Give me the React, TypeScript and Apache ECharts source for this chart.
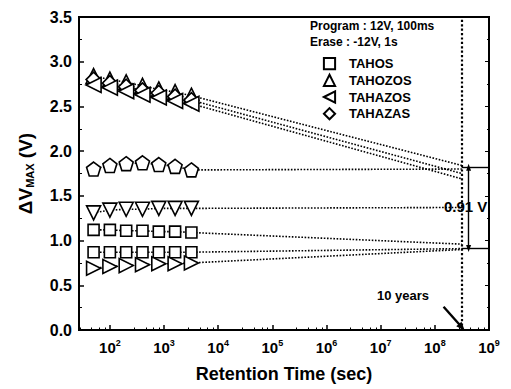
import React, { useEffect, useRef } from "react";
import * as echarts from "echarts";

// Retention times (s)
const times = [50, 100, 200, 400, 800, 1600, 3200];
const tenYears = 3.15e8;

// Series values (V)
const tahozosTop = [2.84, 2.8, 2.77, 2.73, 2.69, 2.66, 2.62];
const tahazasTop = [2.8, 2.76, 2.72, 2.68, 2.65, 2.61, 2.57];
const tahazosTop = [2.74, 2.71, 2.67, 2.63, 2.6, 2.56, 2.53];
const pentagonSet = [1.8, 1.84, 1.86, 1.87, 1.85, 1.83, 1.79];
const downTriSet = [1.31, 1.34, 1.35, 1.35, 1.36, 1.36, 1.36];
const tahosUpper = [1.12, 1.12, 1.11, 1.11, 1.1, 1.1, 1.09];
const tahosLower = [0.87, 0.87, 0.87, 0.87, 0.87, 0.87, 0.87];
const rightTriSet = [0.69, 0.71, 0.72, 0.73, 0.74, 0.74, 0.75];

// Extrapolated values at 10 years (V)
const tenYearValues = [1.84, 1.75, 1.69, 1.8, 1.37, 0.96, 0.91, 0.9];

// Memory window levels
const windowHigh = 1.82;
const windowLow = 0.91;
const windowLabel = "0.91 V";

const yTicks = [0, 3.5, 0.5];

const FONT = "Liberation Sans";
const pentagon =
  "path://M0,-1 L0.951,-0.309 L0.588,0.809 L-0.588,0.809 L-0.951,-0.309 Z";

type Def = { name: string; values: number[]; symbol: string; rot: number; size: number };

const defs: Def[] = [
  { name: "TAHOZOS", values: tahozosTop, symbol: "triangle", rot: 0, size: 15 },
  { name: "TAHAZAS", values: tahazasTop, symbol: "diamond", rot: 0, size: 15 },
  { name: "TAHAZOS", values: tahazosTop, symbol: "triangle", rot: 90, size: 15 },
  { name: "set4", values: pentagonSet, symbol: pentagon, rot: 0, size: 14 },
  { name: "set5", values: downTriSet, symbol: "triangle", rot: 180, size: 14 },
  { name: "TAHOS", values: tahosUpper, symbol: "rect", rot: 0, size: 11 },
  { name: "set7", values: tahosLower, symbol: "rect", rot: 0, size: 11 },
  { name: "set8", values: rightTriSet, symbol: "triangle", rot: -90, size: 14 },
];

export default function App() {
  const ref = useRef<HTMLDivElement>(null);
  useEffect(() => {
    if (!ref.current) return;
    const chart = echarts.init(ref.current, null, { renderer: "svg" });

    const series: any[] = defs.map((d, i) => ({
      name: d.name,
      type: "line",
      symbol: d.symbol,
      symbolSize: d.size,
      symbolRotate: d.rot,
      z: 3,
      itemStyle: { color: "#fff", borderColor: "#000", borderWidth: 1.6 },
      lineStyle: { color: "#000", width: 1.6, type: "dotted" },
      data: [
        ...times.map((t, k) => [t, d.values[k]]),
        { value: [tenYears, tenYearValues[i]], symbol: "none" },
      ],
    }));

    series.push({
      name: "annot",
      type: "line",
      data: [],
      markLine: {
        silent: true,
        label: { show: false },
        symbol: "none",
        data: [
          [
            { coord: [tenYears, 0], lineStyle: { type: "dotted", width: 2.2, color: "#000" } },
            { coord: [tenYears, 3.5] },
          ],
          [
            { coord: [tenYears, windowHigh], lineStyle: { type: "solid", width: 1.4, color: "#000" } },
            { coord: [1e9, windowHigh] },
          ],
          [
            { coord: [tenYears, windowLow], lineStyle: { type: "solid", width: 1.4, color: "#000" } },
            { coord: [1e9, windowLow] },
          ],
          [
            {
              coord: [4.2e8, windowLow],
              symbol: "triangle",
              symbolSize: [5, 7],
              lineStyle: { type: "solid", width: 1.4, color: "#000" },
            },
            { coord: [4.2e8, windowHigh], symbol: "triangle", symbolSize: [5, 7] },
          ],
          [
            {
              coord: [1.45e8, 0.26],
              symbol: "none",
              lineStyle: { type: "solid", width: 2.4, color: "#000" },
            },
            { coord: [tenYears, 0.03], symbol: "triangle", symbolSize: [7, 9] },
          ],
        ],
      },
    });

    chart.setOption({
      animation: false,
      backgroundColor: "#fff",
      textStyle: { fontFamily: FONT, fontWeight: "bold", color: "#000" },
      grid: {
        left: 79,
        right: 22,
        top: 17,
        bottom: 59,
        show: true,
        borderColor: "#000",
        borderWidth: 2,
      },
      legend: {
        data: ["TAHOS", "TAHOZOS", "TAHAZOS", "TAHAZAS"],
        orient: "vertical",
        left: 316,
        top: 52,
        itemWidth: 15,
        itemHeight: 14,
        itemGap: 3.5,
        lineStyle: { opacity: 0 },
        textStyle: {
          fontFamily: FONT,
          fontWeight: "bold",
          fontSize: 13,
          color: "#000",
          padding: [0, 0, 0, 7],
        },
      },
      xAxis: {
        type: "log",
        logBase: 10,
        min: 26.9,
        max: 1e9,
        name: "Retention Time (sec)",
        nameLocation: "middle",
        nameGap: 35,
        nameTextStyle: { fontFamily: FONT, fontWeight: "bold", fontSize: 18, color: "#000" },
        axisLine: { lineStyle: { color: "#000", width: 2 } },
        axisTick: { inside: true, length: 5, lineStyle: { color: "#000", width: 1.5 } },
        minorTick: { show: true, splitNumber: 5, length: 2.5, lineStyle: { color: "#000", width: 1 } },
        splitLine: { show: false },
        axisLabel: {
          showMinLabel: false,
          margin: 8,
          formatter: (v: number) => {
            const e = Math.round(Math.log10(v));
            return "{b|10}{s|" + e + "}";
          },
          rich: {
            b: { fontFamily: FONT, fontWeight: "bold", fontSize: 15, color: "#000", lineHeight: 18 },
            s: {
              fontFamily: FONT,
              fontWeight: "bold",
              fontSize: 9,
              color: "#000",
              verticalAlign: "top",
              lineHeight: 18,
              padding: [0, 0, 8, 0],
            },
          },
        },
      },
      yAxis: [
        {
          type: "value",
          min: yTicks[0],
          max: yTicks[1],
          interval: yTicks[2],
          name: "ΔV{sub|MAX} (V)",
          nameLocation: "middle",
          nameGap: 44,
          nameTextStyle: {
            fontFamily: FONT,
            fontWeight: "bold",
            fontSize: 19,
            color: "#000",
            rich: {
              sub: {
                fontFamily: FONT,
                fontWeight: "bold",
                fontSize: 11,
                color: "#000",
                verticalAlign: "bottom",
                padding: [8, 0, 0, 0],
              },
            },
          },
          axisLine: { show: true, lineStyle: { color: "#000", width: 2 } },
          axisTick: { inside: true, length: 5, lineStyle: { color: "#000", width: 1.5 } },
          minorTick: { show: true, splitNumber: 2, length: 3, lineStyle: { color: "#000", width: 1 } },
          splitLine: { show: false },
          axisLabel: {
            margin: 7,
            fontFamily: FONT,
            fontWeight: "bold",
            fontSize: 16,
            color: "#000",
            formatter: (v: number) => v.toFixed(1),
          },
        },
        {
          type: "value",
          position: "right",
          min: yTicks[0],
          max: yTicks[1],
          interval: yTicks[2],
          axisLine: { show: true, lineStyle: { color: "#000", width: 2 } },
          axisTick: { inside: true, length: 4, lineStyle: { color: "#000", width: 1 } },
          minorTick: { show: true, splitNumber: 2, length: 2, lineStyle: { color: "#000", width: 1 } },
          splitLine: { show: false },
          axisLabel: { show: false },
        },
      ],
      graphic: [
        {
          type: "text",
          left: 310,
          top: 20,
          style: { text: "Program : 12V, 100ms", font: `bold 12px "${FONT}"`, fill: "#000" },
        },
        {
          type: "text",
          left: 310,
          top: 36,
          style: { text: "Erase : -12V, 1s", font: `bold 12px "${FONT}"`, fill: "#000" },
        },
        {
          type: "text",
          left: 444,
          top: 199,
          style: { text: windowLabel, font: `bold 15px "${FONT}"`, fill: "#000" },
        },
        {
          type: "text",
          left: 377,
          top: 289,
          style: { text: "10 years", font: `bold 13px "${FONT}"`, fill: "#000" },
        },
      ],
      series,
    });
    return () => chart.dispose();
  }, []);
  return <div ref={ref} style={{ width: 511, height: 389, position: "absolute", left: 0, top: 0 }} />;
}
